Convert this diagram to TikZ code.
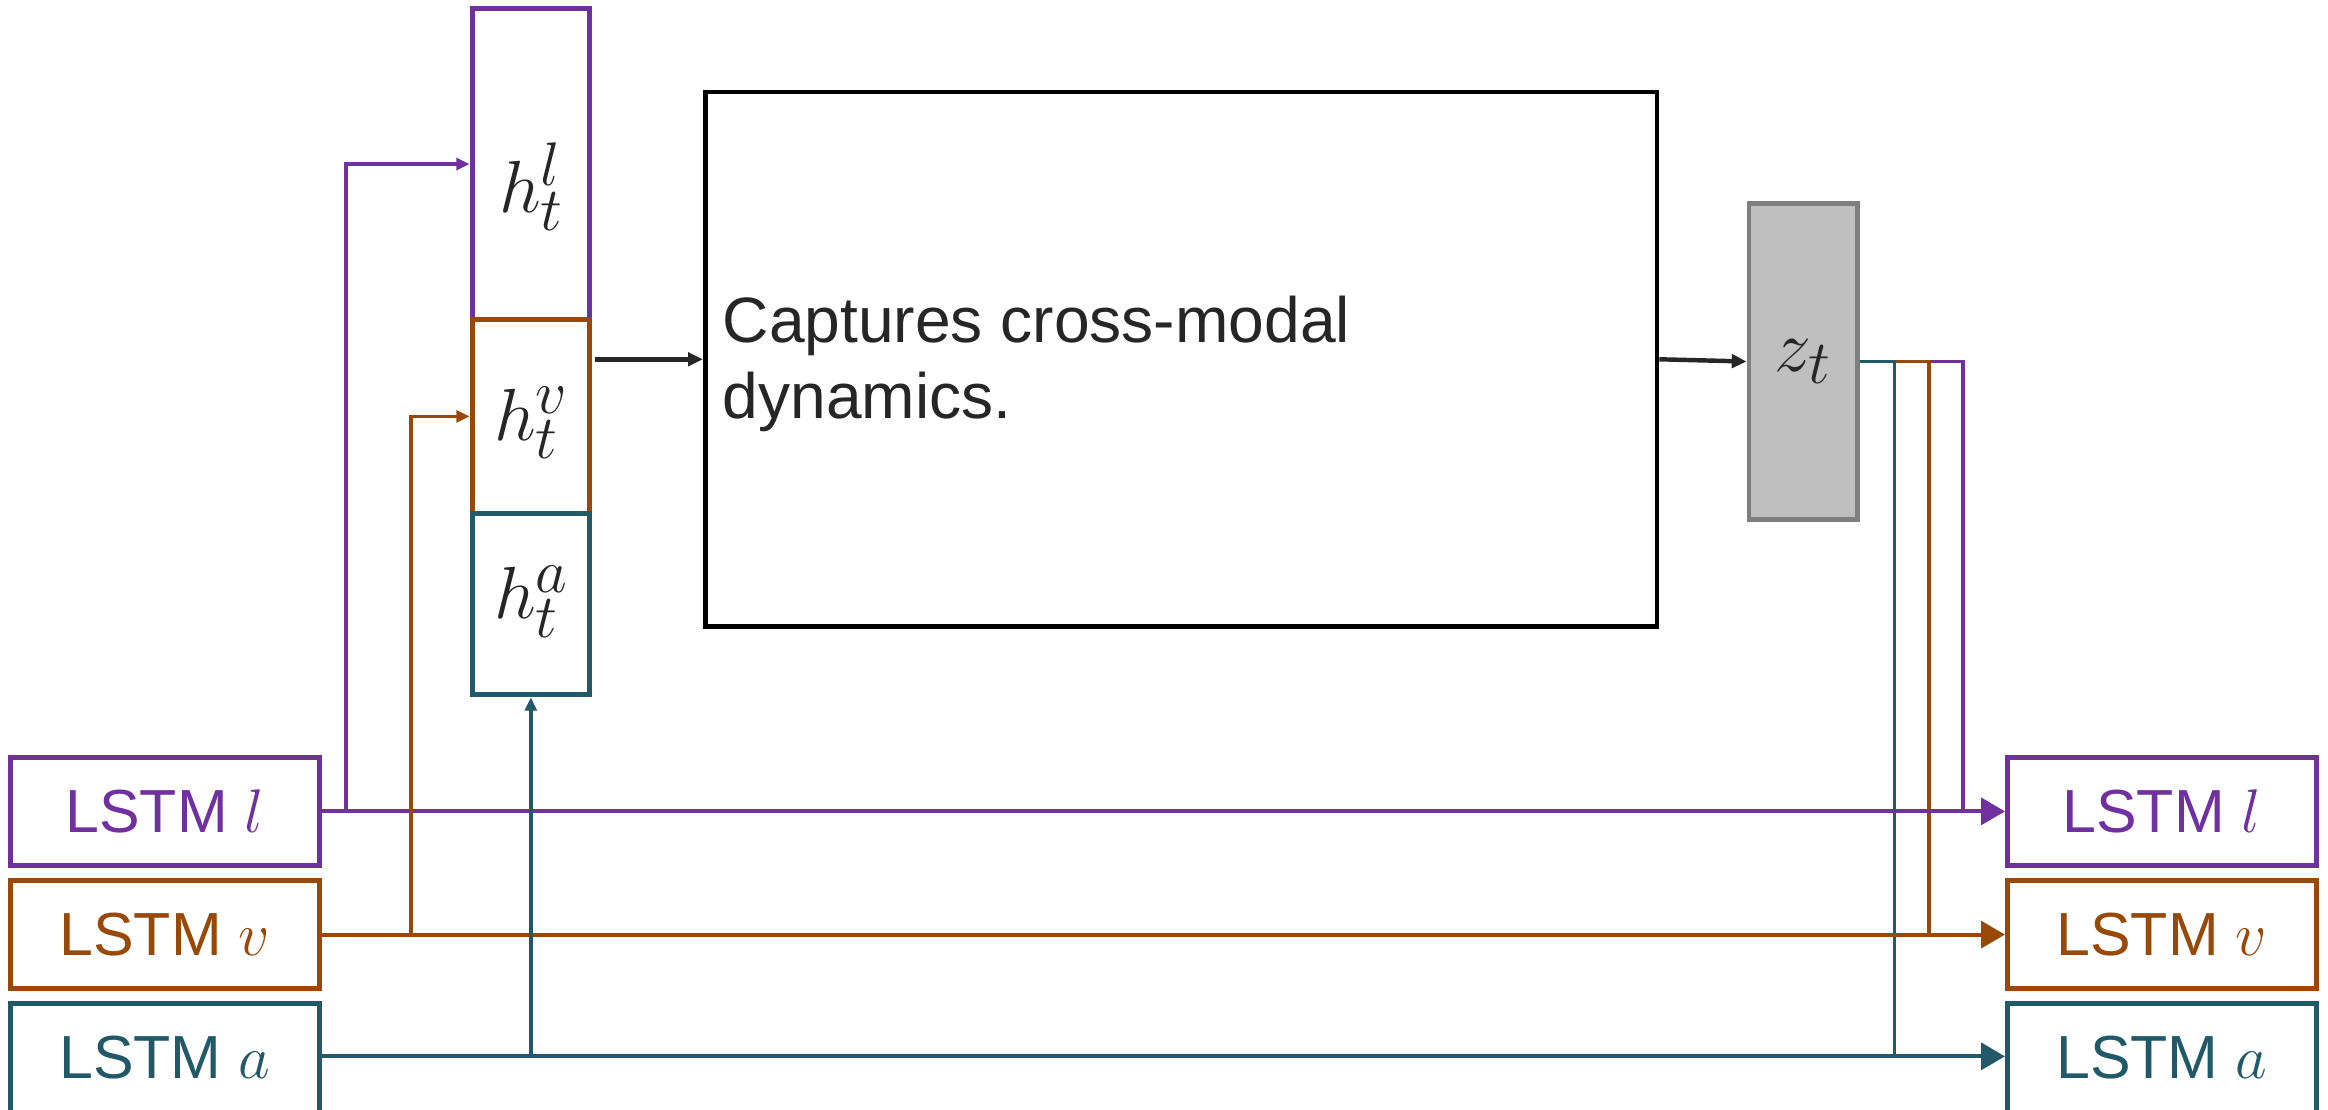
\documentclass[tikz,border=0pt]{standalone}
\usepackage{fontspec}
\setmainfont{Liberation Sans}
\usetikzlibrary{arrows.meta,calc}
\definecolor{cpurple}{HTML}{7030A0}
\definecolor{cbrown}{HTML}{984807}
\definecolor{cteal}{HTML}{215968}
\definecolor{ctext}{HTML}{262626}
\definecolor{zfill}{HTML}{BFBFBF}
\definecolor{zedge}{HTML}{7F7F7F}
\begin{document}
\begin{tikzpicture}[x=0.5pt,y=-0.5pt,
  lstm/.style={draw, line width=1.6pt, minimum width=104pt, minimum height=36.5pt, inner sep=0pt, font=\fontsize{20.5}{24}\selectfont},
  hbox/.style={draw, line width=1.7pt, minimum width=39.5pt, inner sep=0pt},
  hlab/.style={inner sep=0pt, text=ctext, font=\fontsize{28}{32}\selectfont},
  link/.style={line width=1.3pt},
  bigtip/.style={-{Triangle[length=8pt,width=9pt]}},
  smalltip/.style={-{Triangle[length=4.5pt,width=4pt]}},
  blk/.style={line width=1.5pt, draw=ctext, -{Triangle[length=5pt,width=4.5pt]}}
]
\useasboundingbox (0,0) rectangle (1568,747);

% left LSTM boxes
\node[lstm, draw=cpurple, text=cpurple] (Ll) at (111,546.5) {LSTM $l$};
\node[lstm, draw=cbrown, text=cbrown] (Lv) at (111,629.5) {LSTM $v$};
\node[lstm, draw=cteal, text=cteal] (La) at (111,712.5) {LSTM $a$};
% right LSTM boxes
\node[lstm, draw=cpurple, text=cpurple] (Rl) at (1456,546.5) {LSTM $l$};
\node[lstm, draw=cbrown, text=cbrown] (Rv) at (1456,629.5) {LSTM $v$};
\node[lstm, draw=cteal, text=cteal] (Ra) at (1456,712.5) {LSTM $a$};

% hidden-state stack
\node[hbox, draw=cpurple, minimum height=104.5pt] (hl) at (357.5,110.5) {};
\node[hbox, draw=cbrown, minimum height=65.5pt] (hv) at (357.5,280.5) {};
\node[hbox, draw=cteal, minimum height=61pt] (ha) at (357.5,407) {};
\node[hlab] (hlt) at (358,126) {$h_t^l$};
\node[hlab] (hvt) at (358,285) {$h_t^v$};
\node[hlab] (hat) at (358,405) {$h_t^a$};

% big box
\node[draw=black, line width=1.6pt, minimum width=320.5pt, minimum height=180pt, inner sep=0pt] (big) at (795.5,242) {};
\node[anchor=west, align=left, inner sep=0pt, text=ctext, font=\fontsize{21.6}{25.5}\selectfont] (cap) at ($(big.west)+(13,3)$) {Captures cross-modal\\dynamics.};

% z_t
\node[draw=zedge, fill=zfill, line width=1.6pt, minimum width=36.5pt, minimum height=106.5pt, inner sep=0pt, text=ctext, font=\fontsize{28}{32}\selectfont] (z) at (1214.5,243.5) {$z_t$};

% black arrows
\coordinate (hs) at ($(hv.east |- big.west)+(2,0)$);
\draw[blk] (hs) -- (big.west);
\draw[blk] (big.east) -- (z.west);

% right branches from z_t
\coordinate (pj) at (1322,546.5);
\coordinate (vj) at (1299,629.5);
\coordinate (aj) at (1276,711.5);
\draw[link, draw=cpurple] (z.east) -| (pj);
\draw[link, draw=cbrown] (z.east) -| (vj);
\draw[link, draw=cteal] (z.east) -| (aj);

% main horizontal lines
\draw[link, draw=cpurple, fill=cpurple, bigtip] (Ll.east) -- (Rl.west);
\draw[link, draw=cbrown, fill=cbrown, bigtip] (Lv.east) -- (Rv.west);
\draw[link, draw=cteal, fill=cteal, bigtip] (La.east |- aj) -- (Ra.west |- aj);

% left branches to hidden states
\coordinate (pb) at (233,546.5);
\coordinate (vb) at (277,629.5);
\coordinate (ab) at (357.5,711.5);
\draw[link, draw=cpurple, smalltip] (pb) |- (hl.west);
\draw[link, draw=cbrown, smalltip] (vb) |- (hv.west);
\draw[link, draw=cteal, smalltip] (ab) -- (ha.south);
\end{tikzpicture}
\end{document}
